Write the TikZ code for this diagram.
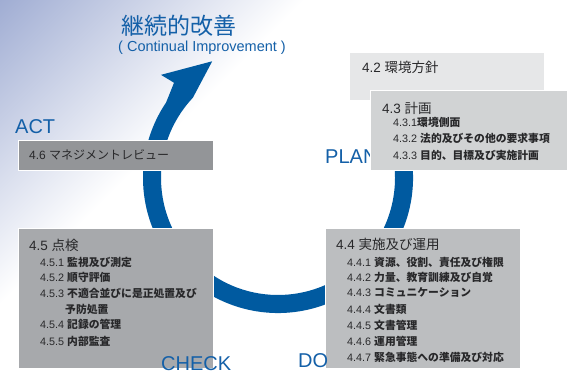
\documentclass[tikz,border=0pt]{standalone}
\usepackage{fontspec}
\setmainfont{Liberation Sans}
\newfontfamily\jp{Noto Sans CJK JP}
\definecolor{bgblue}{RGB}{160,173,211}
\definecolor{ringblue}{RGB}{0,90,160}
\definecolor{lblue}{RGB}{20,96,168}
\definecolor{txt}{RGB}{40,40,42}
\definecolor{cA}{RGB}{230,231,232}
\definecolor{cB}{RGB}{209,211,212}
\definecolor{cC}{RGB}{147,149,152}
\definecolor{cD}{RGB}{167,169,172}
\definecolor{cE}{RGB}{188,190,192}
\newcommand\itm[2]{#1\ {\jp\bfseries #2}}
\begin{document}
\begin{tikzpicture}[x=1pt,y=-1pt,
  box/.style={draw=white, line width=0.8pt, anchor=north west, inner sep=0pt, outer sep=0pt},
  head/.style={anchor=west, inner sep=0pt, text=txt, font=\fontsize{13.5}{15}\selectfont},
  subitem/.style={anchor=west, inner sep=0pt, text=txt, font=\fontsize{10.8}{12}\selectfont},
  pdca/.style={anchor=base west, inner sep=0pt, text=lblue, font=\fontsize{20}{22}\selectfont}]
\useasboundingbox (0,0) rectangle (569,374);
\fill[white] (0,0) rectangle (569,374);
\begin{scope}
  \clip (0,0) rectangle (569,374);
  \begin{scope}[transform canvas={rotate=-45}]
    \shade[left color=bgblue, right color=white] (0,-320) rectangle (215,320);
  \end{scope}
\end{scope}
% title
\node[anchor=west, inner sep=0pt, text=lblue, font=\jp\fontsize{23}{25}\selectfont] (title) at (121,26) {継続的改善};
\node[anchor=west, inner sep=0pt, text=lblue, font=\fontsize{14.5}{16}\selectfont] (subtitle) at (118,48) {( Continual Improvement )};
% ring with arrow
\fill[ringblue] ([shift={(278,178)}]-20:135) arc[start angle=-20, end angle=214, radius=135]
  -- ([shift={(278,178)}]222.5:141) -- ([shift={(278,178)}]221.4:156)
  -- ([shift={(278,178)}]240.6:134) -- ([shift={(278,178)}]223.3:117)
  arc[start angle=223.3, end angle=-20, radius=117] -- cycle;
% PLAN label (behind box)
\node[pdca] (plan) at (325,163) {PLAN};
% boxes
\node[box, fill=cA, minimum width=195pt, minimum height=48pt] (b42) at (349,52) {};
\node[box, fill=cB, minimum width=197pt, minimum height=80pt] (b43) at (370,90) {};
\node[box, fill=cC, minimum width=195pt, minimum height=30pt] (b46) at (18,140) {};
\node[box, fill=cD, minimum width=195pt, minimum height=140pt] (b45) at (18,228) {};
\node[box, fill=cE, minimum width=195pt, minimum height=140pt] (b44) at (325,228) {};
% 4.2
\node[head] (t42) at (362,67) {4.2 {\jp 環境方針}};
% 4.3
\node[head] (t43) at (382,108) {4.3 {\jp 計画}};
\node[subitem] (t431) at (393,122) {4.3.1{\jp\bfseries 環境側面}};
\node[subitem] (t432) at (393,138) {\itm{4.3.2}{法的及びその他の要求事項}};
\node[subitem] (t433) at (393,155) {\itm{4.3.3}{目的、目標及び実施計画}};
% 4.6
\node[head, font=\fontsize{12}{14}\selectfont] (t46) at (29,155) {4.6 {\jp マネジメントレビュー}};
% 4.5
\node[head] (t45) at (29,245) {4.5 {\jp 点検}};
\node[subitem] (t451) at (40,262) {\itm{4.5.1}{監視及び測定}};
\node[subitem] (t452) at (40,277) {\itm{4.5.2}{順守評価}};
\node[subitem] (t453) at (40,293) {\itm{4.5.3}{不適合並びに是正処置及び}};
\node[subitem] (t453b) at (65,309) {{\jp\bfseries 予防処置}};
\node[subitem] (t454) at (40,324) {\itm{4.5.4}{記録の管理}};
\node[subitem] (t455) at (40,341) {\itm{4.5.5}{内部監査}};
% 4.4
\node[head] (t44) at (336,244) {4.4 {\jp 実施及び運用}};
\node[subitem] (t441) at (347,262) {\itm{4.4.1}{資源、役割、責任及び権限}};
\node[subitem] (t442) at (347,277) {\itm{4.4.2}{力量、教育訓練及び自覚}};
\node[subitem] (t443) at (347,292) {\itm{4.4.3}{コミュニケーション}};
\node[subitem] (t444) at (347,309) {\itm{4.4.4}{文書類}};
\node[subitem] (t445) at (347,325) {\itm{4.4.5}{文書管理}};
\node[subitem] (t446) at (347,341) {\itm{4.4.6}{運用管理}};
\node[subitem] (t447) at (347,357) {\itm{4.4.7}{緊急事態への準備及び対応}};
% PDCA labels
\node[pdca] (act) at (15,134) {ACT};
\node[pdca] (check) at (161,370.5) {CHECK};
\node[pdca] (do) at (298,367) {DO};
\end{tikzpicture}
\end{document}
